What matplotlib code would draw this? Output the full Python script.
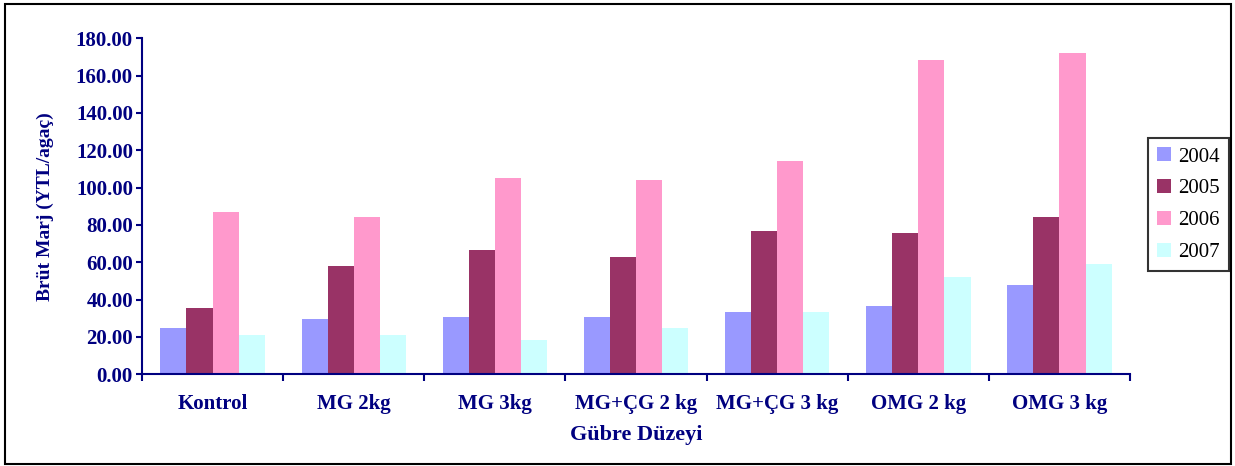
import numpy as np
import matplotlib
matplotlib.use("Agg")
import matplotlib.pyplot as plt
from matplotlib.patches import Rectangle

categories = ["Kontrol", "MG 2kg", "MG 3kg", "MG+ÇG 2 kg", "MG+ÇG 3 kg", "OMG 2 kg", "OMG 3 kg"]
years = ["2004", "2005", "2006", "2007"]
v2004 = [24.6, 29.5, 30.7, 30.7, 33.2, 36.4, 47.7]
v2005 = [35.4, 57.8, 66.4, 62.7, 76.6, 75.5, 84.1]
v2006 = [86.8, 84.1, 105.0, 103.9, 114.1, 168.2, 171.9]
v2007 = [20.9, 20.9, 18.2, 24.6, 33.2, 52.0, 58.9]
colors = ["#9999FF", "#993366", "#FF99CC", "#CCFFFF"]
yticks = [0, 20, 40, 60, 80, 100, 120, 140, 160, 180]

navy = "#000080"
plt.rcParams["font.family"] = ["Liberation Serif", "DejaVu Serif"]

fig = plt.figure(figsize=(12.35, 4.66), dpi=100)
ax = fig.add_axes([0.115, 0.197, 0.8, 0.721])

series = [v2004, v2005, v2006, v2007]
x = np.arange(len(categories))
w = 0.185
for i, (vals, year) in enumerate(zip(series, years)):
    ax.bar(x + (i - 1.5) * w, vals, width=w, color=colors[i], label=year, linewidth=0)

ax.set_xlim(-0.5, len(categories) - 0.5)
ax.set_ylim(0, 180)
ax.set_yticks(yticks)
ax.set_yticklabels([f"{t:.2f}" for t in yticks], fontsize=15, fontweight="bold", color=navy)
ax.set_xticks(x)
ax.set_xticklabels(categories, fontsize=15, fontweight="bold", color=navy)
ax.tick_params(axis="x", length=0, pad=14)
# small ticks between the groups
ax.set_xticks(np.arange(len(categories) + 1) - 0.5, minor=True)
ax.tick_params(axis="x", which="minor", length=5, width=1.5, color=navy, direction="out")
ax.tick_params(axis="y", length=4.5, width=1.5, color=navy, direction="out", pad=2)

for s in ["top", "right"]:
    ax.spines[s].set_visible(False)
for s in ["left", "bottom"]:
    ax.spines[s].set_color(navy)
    ax.spines[s].set_linewidth(1.5)

ax.set_ylabel("Brüt Marj (YTL/agaç)", fontsize=14, fontweight="bold", color=navy, labelpad=16)
ax.set_xlabel("Gübre Düzeyi", fontsize=16, fontweight="bold", color=navy, labelpad=8)

leg = fig.legend(loc="center left", bbox_to_anchor=(0.9296, 0.561), fontsize=15,
                 frameon=True, fancybox=False, labelspacing=0.6, handlelength=0.67,
                 handleheight=0.65, handletextpad=0.3, borderpad=0.45, borderaxespad=0)
leg.get_frame().set_edgecolor("black")
leg.get_frame().set_linewidth(1.5)

# outer frame around the whole chart
fig.patches.append(Rectangle((0.004, 0.004), 0.993, 0.988, transform=fig.transFigure,
                             fill=False, edgecolor="black", linewidth=1.5))

fig.savefig("out.png", dpi=100)
